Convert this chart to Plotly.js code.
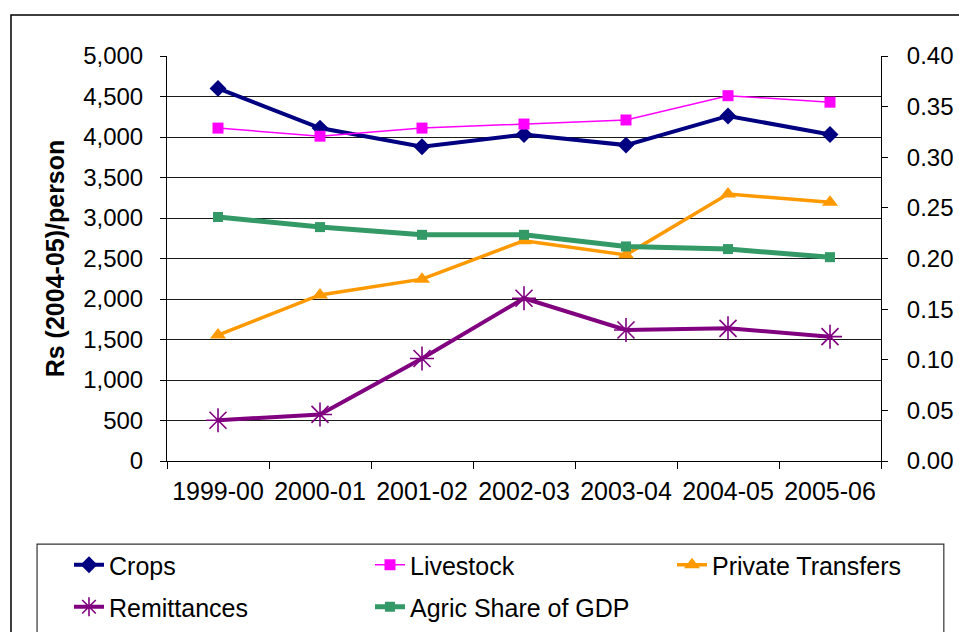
<!DOCTYPE html>
<html>
<head>
<meta charset="utf-8">
<script src="https://cdn.plot.ly/plotly-3.0.1.min.js"></script>
<style>
html,body{margin:0;padding:0;background:#fff;}
#chart{width:959px;height:632px;}
</style>
</head>
<body>
<div id="chart"></div>
<script>
var years = ["1999-00","2000-01","2001-02","2002-03","2003-04","2004-05","2005-06"];
var crops = [4600, 4110, 3880, 4030, 3900, 4260, 4030];
var livestock = [4110, 4010, 4110, 4160, 4210, 4510, 4430];
var privateTransfers = [1555, 2050, 2245, 2720, 2545, 3295, 3195];
var remittances = [503, 575, 1266, 2009, 1617, 1638, 1535];
var agricShare = [0.241, 0.231, 0.2234, 0.2234, 0.2119, 0.2093, 0.2013];

var leftTicks = [0,500,1000,1500,2000,2500,3000,3500,4000,4500,5000];
var rightTicks = [0,0.05,0.10,0.15,0.20,0.25,0.30,0.35,0.40];

var FONT = "Liberation Sans, Arial, sans-serif";

var traces = [
  {x: years, y: crops, name: "Crops", type: "scatter", mode: "lines+markers",
   line: {color: "#000080", width: 4}, marker: {symbol: "diamond", size: 13, color: "#000080"}, legend: "legend"},
  {x: years, y: livestock, name: "Livestock", type: "scatter", mode: "lines+markers",
   line: {color: "#FF00FF", width: 1.5}, marker: {symbol: "square", size: 11, color: "#FF00FF"}, legend: "legend2"},
  {x: years, y: privateTransfers, name: "Private Transfers", type: "scatter", mode: "lines+markers",
   line: {color: "#FF9900", width: 3.5}, marker: {symbol: "triangle-up", size: 14, color: "#FF9900"}, legend: "legend3"},
  {x: years, y: remittances, name: "Remittances", type: "scatter", mode: "lines+markers",
   line: {color: "#800080", width: 4}, marker: {symbol: "asterisk-open", size: 20, color: "#800080", line: {color: "#800080", width: 1.6}}, legend: "legend4"},
  {x: years, y: agricShare, name: "Agric Share of GDP", type: "scatter", mode: "lines+markers", yaxis: "y2",
   line: {color: "#339966", width: 5}, marker: {symbol: "square", size: 10, color: "#339966"}, legend: "legend5"}
];

function leg(xpx, ypx) {
  return {
    orientation: "h", xref: "container", yref: "container",
    x: xpx / 959, xanchor: "left", y: 1 - ypx / 632, yanchor: "middle",
    bgcolor: "rgba(0,0,0,0)", font: {family: FONT, size: 25}, borderwidth: 0
  };
}

var layout = {
  width: 959, height: 632,
  margin: {l: 167, r: 78, t: 56, b: 171},
  paper_bgcolor: "#ffffff", plot_bgcolor: "#ffffff",
  font: {family: FONT, size: 24, color: "#000"},
  showlegend: true,
  xaxis: {
    type: "category", range: [-0.5, 6.5], tickson: "boundaries",
    showline: true, linecolor: "#000", linewidth: 1,
    ticks: "outside", ticklen: 7, tickcolor: "#000",
    showgrid: false, zeroline: false, automargin: false,
    tickfont: {family: FONT, size: 25}, ticklabelstandoff: 8
  },
  yaxis: {
    range: [0, 5000], tickvals: leftTicks, tickformat: ",d",
    showline: true, linecolor: "#000", linewidth: 1,
    ticks: "outside", ticklen: 6, tickcolor: "#000",
    showgrid: true, gridcolor: "#1a1a1a", gridwidth: 1, zeroline: false, automargin: false,
    tickfont: {family: FONT, size: 24}, ticklabelstandoff: 12,
    title: {text: "<b>Rs (2004-05)/person</b>", font: {family: FONT, size: 25}, standoff: 11}
  },
  yaxis2: {
    overlaying: "y", side: "right", range: [0, 0.4], tickvals: rightTicks, tickformat: ".2f",
    showline: true, linecolor: "#000", linewidth: 1,
    ticks: "outside", ticklen: 6, tickcolor: "#000",
    showgrid: false, zeroline: false, automargin: false,
    tickfont: {family: FONT, size: 24}, ticklabelstandoff: 14
  },
  legend: leg(69, 565),
  legend2: leg(370, 565),
  legend3: leg(672, 565),
  legend4: leg(69, 607),
  legend5: leg(370, 607),
  shapes: [
    {type: "rect", xref: "paper", yref: "paper", x0: -0.2185, x1: 1.2, y0: -0.6, y1: 1.101,
     line: {color: "#000", width: 1.5}, fillcolor: "rgba(0,0,0,0)", layer: "below"},
    {type: "rect", xref: "paper", yref: "paper", x0: -0.182, x1: 1.088, y0: -0.6, y1: -0.205,
     line: {color: "#333", width: 1.2}, fillcolor: "rgba(0,0,0,0)", layer: "below"}
  ]
};

Plotly.newPlot("chart", traces, layout, {staticPlot: true, displayModeBar: false});
</script>
</body>
</html>
